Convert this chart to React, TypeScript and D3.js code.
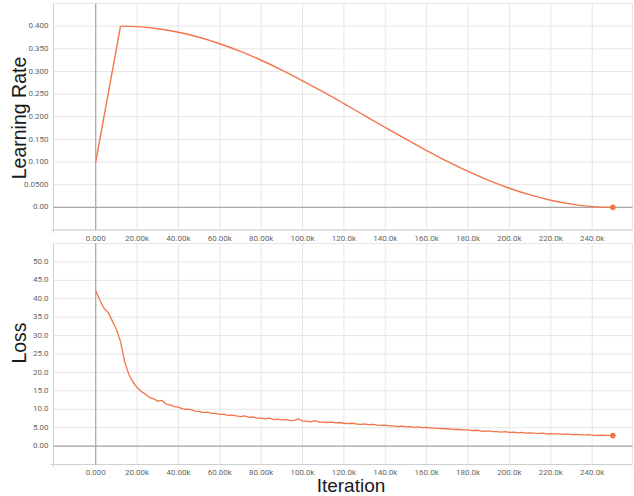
import * as d3 from "d3";

const WIDTH = 634;
const HEIGHT = 496;

// learning rate: step (k) -> value
const lrSteps = [0, 12, 20, 30, 40, 50, 60, 70, 80, 90, 100, 110, 120, 130, 140, 150, 160, 170, 180, 190, 200, 210, 220, 230, 240, 250];
const lrValues = [
  0.1, 0.4, 0.3989, 0.3944, 0.3865, 0.3754, 0.3612, 0.3442, 0.3247, 0.303, 0.2794, 0.2547, 0.2289,
  0.2026, 0.1763, 0.1504, 0.1254, 0.1014, 0.0793, 0.0596, 0.0422, 0.0275, 0.0157, 0.007, 0.0017, 0.0,
];

// loss, one reading every 2k iterations from 0 to 250k
const LOSS_STEP_K = 2;
const lossValues = [
  42.2, 39.6, 37.4, 36.3, 34.0, 31.7, 28.4, 22.9, 19.5, 17.4,
  15.9, 14.8, 14.1, 13.2, 12.8, 12.2, 12.4, 11.4,
  11.2, 10.7, 10.6, 10.1, 10.0, 9.9, 9.5, 9.4,
  9.1, 9.2, 8.9, 8.9, 8.6, 8.7, 8.3, 8.4,
  8.2, 8.0, 8.2, 7.8, 7.9, 7.6, 7.6, 7.4,
  7.6, 7.2, 7.3, 7.1, 7.2, 6.9, 7.0, 7.4,
  6.8, 6.8, 6.6, 6.9, 6.5, 6.5, 6.4, 6.5,
  6.3, 6.4, 6.2, 6.1, 6.2, 6.0, 5.9, 6.0,
  5.8, 5.9, 5.7, 5.6, 5.7, 5.5, 5.5, 5.3,
  5.4, 5.2, 5.3, 5.1, 5.2, 5.0, 5.1, 4.9,
  4.9, 4.8, 4.7, 4.7, 4.6, 4.5, 4.5, 4.4,
  4.4, 4.2, 4.3, 4.1, 4.0, 4.1, 3.9, 3.9,
  3.8, 3.9, 3.7, 3.8, 3.6, 3.7, 3.5, 3.6,
  3.5, 3.4, 3.5, 3.3, 3.4, 3.3, 3.3, 3.2,
  3.3, 3.1, 3.2, 3.1, 3.0, 3.1, 3.0, 2.9,
  3.0, 2.9, 2.9, 2.85,
];

const xTicksK = [0, 20, 40, 60, 80, 100, 120, 140, 160, 180, 200, 220, 240];
const lrTicks = [0, 0.05, 0.1, 0.15, 0.2, 0.25, 0.3, 0.35, 0.4];
const lrTickLabels = ["0.00", "0.0500", "0.100", "0.150", "0.200", "0.250", "0.300", "0.350", "0.400"];
const lossTicks = [0, 5, 10, 15, 20, 25, 30, 35, 40, 45, 50];
const lossTickLabels = ["0.00", "5.00", "10.0", "15.0", "20.0", "25.0", "30.0", "35.0", "40.0", "45.0", "50.0"];

const LINE_COLOR = "#f4754a";
const GRID = "#e6e6e6";
const ZERO = "#a8a8a8";
const FRAME = "#d0d0d0";
const TICK_TEXT = "#666";
const TICK_FONT = "Roboto, 'Liberation Sans', sans-serif";
const TITLE_FONT = "'Liberation Sans', Arial, sans-serif";

const PLOT_LEFT = 53.5;
const PLOT_RIGHT = 632.5;

function xLabel(k: number) {
  if (k === 0) return "0.000";
  return k < 100 ? `${k}.00k` : `${k}.0k`;
}

type PanelProps = {
  top: number;
  bottom: number;
  yDomain: [number, number];
  yTicks: number[];
  yTickLabels: string[];
  gridStep: number;
  // straight segments first, then a smoothed part
  straight: [number, number][];
  smooth: [number, number][];
  smoothCurve: d3.CurveFactory;
  lineWidth: number;
};

function Panel(props: PanelProps) {
  const { top, bottom, yDomain, yTicks, yTickLabels, gridStep, straight, smooth, smoothCurve, lineWidth } = props;
  const xScale = d3.scaleLinear().domain([-20.4, 259.5]).range([PLOT_LEFT, PLOT_RIGHT]);
  const yScale = d3.scaleLinear().domain(yDomain).range([bottom, top]);

  const gridYs = d3.range(yDomain[0], yDomain[1] + gridStep / 2, gridStep);
  const lineLinear = d3
    .line<[number, number]>()
    .x((d) => xScale(d[0]))
    .y((d) => yScale(d[1]));
  const lineSmooth = d3
    .line<[number, number]>()
    .x((d) => xScale(d[0]))
    .y((d) => yScale(d[1]))
    .curve(smoothCurve);

  const last = smooth[smooth.length - 1];

  return (
    <g>
      {gridYs.map((v, i) => (
        <line key={"gy" + i} x1={PLOT_LEFT} x2={PLOT_RIGHT} y1={yScale(v)} y2={yScale(v)} stroke={GRID} strokeWidth={1} />
      ))}
      {xTicksK.map((k) => (
        <line key={"gx" + k} x1={xScale(k)} x2={xScale(k)} y1={top} y2={bottom} stroke={GRID} strokeWidth={1} />
      ))}
      <line x1={PLOT_RIGHT} x2={PLOT_RIGHT} y1={top} y2={bottom} stroke={GRID} />
      {/* frame left and bottom */}
      <line x1={PLOT_LEFT} x2={PLOT_LEFT} y1={top} y2={bottom + 3} stroke={FRAME} />
      <line x1={PLOT_LEFT - 3} x2={PLOT_RIGHT} y1={bottom} y2={bottom} stroke={FRAME} />
      {/* zero lines */}
      <line x1={PLOT_LEFT} x2={PLOT_RIGHT} y1={yScale(0)} y2={yScale(0)} stroke={ZERO} strokeWidth={1.2} />
      <line x1={xScale(0)} x2={xScale(0)} y1={top} y2={bottom} stroke={ZERO} strokeWidth={1.2} />

      {yTicks.map((v, i) => (
        <text
          key={"yt" + i}
          x={48.5}
          y={yScale(v)}
          textAnchor="end"
          dominantBaseline="middle"
          fontSize={8}
          fontFamily={TICK_FONT}
          fill={TICK_TEXT}
        >
          {yTickLabels[i]}
        </text>
      ))}
      {xTicksK.map((k) => (
        <text
          key={"xt" + k}
          x={xScale(k)}
          y={bottom + 8.5}
          textAnchor="middle"
          dominantBaseline="middle"
          fontSize={8}
          fontFamily={TICK_FONT}
          fill={TICK_TEXT}
        >
          {xLabel(k)}
        </text>
      ))}

      {straight.length > 1 && (
        <path d={lineLinear(straight) ?? ""} fill="none" stroke={LINE_COLOR} strokeWidth={lineWidth} strokeLinejoin="round" />
      )}
      <path d={lineSmooth(smooth) ?? ""} fill="none" stroke={LINE_COLOR} strokeWidth={lineWidth} strokeLinejoin="round" />
      <circle cx={xScale(last[0])} cy={yScale(last[1])} r={2.8} fill={LINE_COLOR} />
    </g>
  );
}

export default function App() {
  const lrPoints: [number, number][] = lrSteps.map((s, i) => [s, lrValues[i]]);
  const lossPoints: [number, number][] = lossValues.map((v, i) => [i * LOSS_STEP_K, v]);

  return (
    <svg
      width={WIDTH}
      height={HEIGHT}
      style={{ position: "absolute", left: 0, top: 0, background: "#fff" }}
    >
      <rect width={WIDTH} height={HEIGHT} fill="#fff" />
      <Panel
        top={3.5}
        bottom={230}
        yDomain={[-0.05, 0.45]}
        yTicks={lrTicks}
        yTickLabels={lrTickLabels}
        gridStep={0.05}
        straight={lrPoints.slice(0, 2)}
        smooth={lrPoints.slice(1)}
        smoothCurve={d3.curveMonotoneX}
        lineWidth={1.4}
      />
      <Panel
        top={243.5}
        bottom={464.5}
        yDomain={[-5, 55]}
        yTicks={lossTicks}
        yTickLabels={lossTickLabels}
        gridStep={5}
        straight={[]}
        smooth={lossPoints}
        smoothCurve={d3.curveLinear}
        lineWidth={1.3}
      />
      <text
        transform="translate(26,118) rotate(-90)"
        textAnchor="middle"
        fontSize={19.5}
        fontFamily={TITLE_FONT}
        fill="#1a1a1a"
      >
        Learning Rate
      </text>
      <text
        transform="translate(26,343) rotate(-90)"
        textAnchor="middle"
        fontSize={19.5}
        fontFamily={TITLE_FONT}
        fill="#1a1a1a"
      >
        Loss
      </text>
      <text x={351} y={492.3} textAnchor="middle" fontSize={19} fontFamily={TITLE_FONT} fill="#1a1a1a">
        Iteration
      </text>
    </svg>
  );
}
